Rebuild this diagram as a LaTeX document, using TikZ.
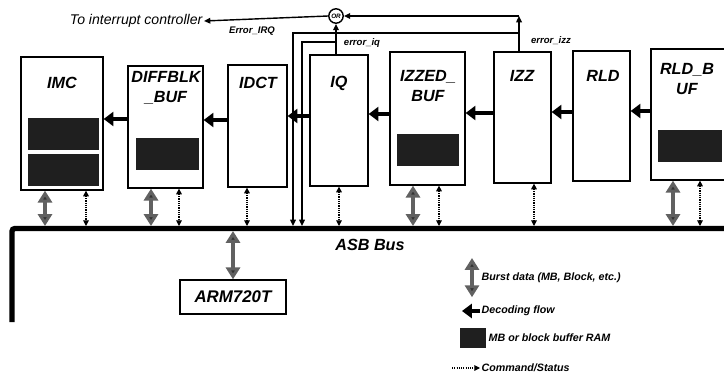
\documentclass[tikz,border=0pt]{standalone}
\usepackage{fontspec}
\setmainfont{Liberation Sans}
\setsansfont{Liberation Sans}
\usetikzlibrary{arrows.meta, positioning, fit}
\tikzset{
  >=Latex,
  font=\sffamily\bfseries\itshape,
  blk/.style={draw, line width=0.9pt, inner sep=0pt},
  ram/.style={fill=black!88, draw=none, inner sep=0pt},
  lbl/.style={font=\fontsize{11.5}{14}\selectfont\sffamily\bfseries\itshape, align=center},
  note/.style={font=\fontsize{7.6}{9}\selectfont\sffamily\bfseries\itshape, anchor=west, inner sep=1pt},
  sig/.style={font=\fontsize{6.8}{8}\selectfont\sffamily\bfseries\itshape, inner sep=1pt},
  orgate/.style={draw, circle, line width=1pt, inner sep=0pt, minimum size=0.36cm,
    font=\fontsize{4.5}{5}\selectfont\sffamily\bfseries\itshape},
  flow/.style={line width=2.8pt, -{Triangle[length=7pt,width=10pt]}},
  burst/.style={line width=3pt, draw=black!62,
    {Triangle[length=8.5pt,width=10pt,fill=black!80]}-{Triangle[length=8.5pt,width=10pt,fill=black!80]}},
  cmd/.style={line width=0.75pt, dash pattern=on 0.8pt off 0.8pt,
    {Triangle[length=4pt,width=4pt]}-{Triangle[length=4pt,width=4pt]}},
  cmdkey/.style={line width=0.75pt, dash pattern=on 0.8pt off 0.8pt, -{Triangle[length=4pt,width=4pt]}},
  err/.style={line width=1pt, -{Triangle[length=4.5pt,width=4pt]}},
  bus/.style={line width=3.8pt, rounded corners=2pt}
}

\begin{document}
\begin{tikzpicture}[x=0.025cm, y=-0.025cm]
  \useasboundingbox (0,0) rectangle (724,381);
  \node[blk, fit={(21,57) (103,190)}] (imc) {};
  \node[blk, fit={(128,66) (203,188)}] (dbuf) {};
  \node[blk, fit={(228,65) (287,187)}] (idct) {};
  \node[blk, fit={(310,55) (368,186)}] (iq) {};
  \node[blk, fit={(390,52) (465,185)}] (izbuf) {};
  \node[blk, fit={(494,52) (551,183)}] (izz) {};
  \node[blk, fit={(573,51) (630,181)}] (rld) {};
  \node[blk, fit={(651,49) (730,180)}] (rbuf) {};
  \node[ram, fit={(28,118) (99,150)}] (imcram1) {};
  \node[ram, fit={(28,154) (99,186)}] (imcram2) {};
  \node[ram, fit={(136,138) (199,170)}] (dbufram) {};
  \node[ram, fit={(397,134) (459,166)}] (izbufram) {};
  \node[ram, fit={(658,130) (722,162)}] (rbufram) {};
  \node[lbl] (limc) at (62,83) {IMC};
  \node[lbl] (ldbuf) at (166,88) {DIFFBLK\\\_BUF};
  \node[lbl] (lidct) at (258,83) {IDCT};
  \node[lbl] (liq) at (339,83) {IQ};
  \node[lbl] (lizbuf) at (428,86) {IZZED\_\\BUF};
  \node[lbl] (lizz) at (522,76) {IZZ};
  \node[lbl] (lrld) at (603,76) {RLD};
  \node[lbl] (lrbuf) at (687,79) {RLD\_B\\UF};
  \foreach \a/\b/\y in {dbuf/imc/119, idct/dbuf/120, iq/idct/116, izbuf/iq/114,
                        izz/izbuf/113, rld/izz/112, rbuf/rld/111}
    \draw[flow] (\a.west |- 0,\y) -- (\b.east |- 0,\y);
  \coordinate (bus) at (12,228.5);
  \coordinate (bustop) at (12,226);
  \coordinate (busbot) at (12,231);
  \draw[bus] (12,322) -- (bus) -- (740,228.5);
  \node[lbl, font=\fontsize{11.5}{14}\selectfont\sffamily\bfseries\itshape] (lbus) at (370,245) {ASB Bus};
  \node[blk, lbl, font=\fontsize{12}{14}\selectfont\sffamily\bfseries\itshape,
    minimum width=2.65cm, minimum height=0.85cm] (arm) at (233,297) {ARM720T};
  \foreach \n/\x in {imc/45, dbuf/151, izbuf/413, rbuf/673}
    \draw[burst] (\n.south -| \x,0) -- (bustop -| \x,0);
  \draw[burst] (busbot -| arm.north) -- (arm.north);
  \foreach \n/\x in {imc/86, dbuf/179, idct/247, iq/339, izbuf/439, izz/534, rbuf/700}
    \draw[cmd] (\n.south -| \x,0) -- (bustop -| \x,0);
  \node[orgate] (or) at (336,16) {OR};
  \node[sig, font=\fontsize{10}{12}\selectfont\sffamily\itshape, anchor=east] (intc) at (204,21) {To interrupt controller};
  \draw[err] (or.west) -- (intc.east);
  \node[sig] (lirq) at (252,31) {Error\_IRQ};
  \coordinate (izzup) at (519,16);
  \coordinate (izzbus) at (293,33);
  \coordinate (iqbus) at (302,42);
  \draw[err] (izz.north -| izzup) -- (izzup);
  \draw[err] (izzup) -- (or.east);
  \draw[err] (or.south |- iq.north) -- (or.south);
  \draw[err] (izzup |- izzbus) -- (izzbus) -- (izzbus |- bustop);
  \draw[err] (or.south |- iqbus) -- (iqbus) -- (iqbus |- bustop);
  \node[sig] (liqerr) at (362,43) {error\_iq};
  \node[sig] (lizzerr) at (551,41) {error\_izz};
  \node[note] (kburst) at (480,278) {Burst data (MB, Block, etc.)};
  \draw[burst] ([xshift=-0.2cm, yshift=0.5cm]kburst.west) -- ([xshift=-0.2cm, yshift=-0.48cm]kburst.west);
  \node[note] (kflow) at (480,311) {Decoding flow};
  \draw[flow] (kflow.west) -- ++(-18,0);
  \node[ram, fit={(460,328) (486,348)}] (kramsq) {};
  \node[note] (kram) at (487,338) {MB or block buffer RAM};
  \node[note] (kcmd) at (480,368) {Command/Status};
  \coordinate (kcmdtail) at (452,368);
  \draw[cmdkey] (kcmdtail) -- (kcmd.west);
\end{tikzpicture}
\end{document}
